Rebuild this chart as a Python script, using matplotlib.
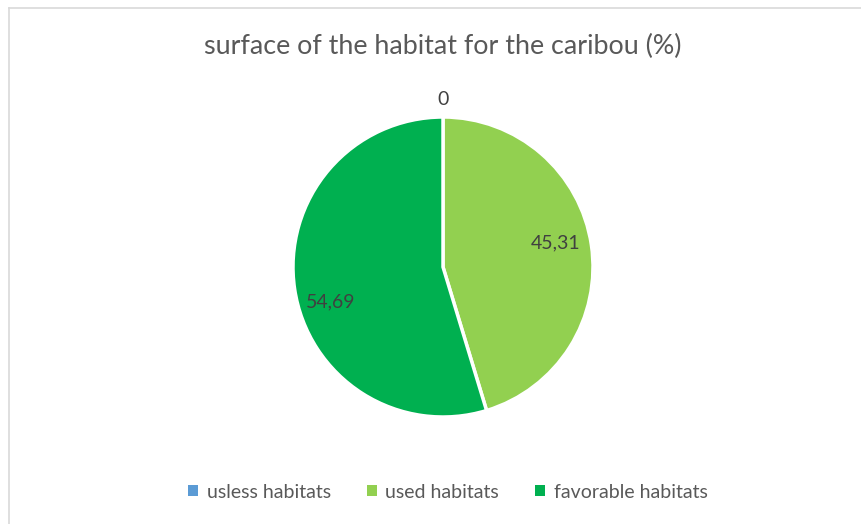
import matplotlib
matplotlib.use("Agg")
import matplotlib.pyplot as plt
import numpy as np
from matplotlib.patches import Rectangle
from matplotlib.lines import Line2D

plt.rcParams['font.family'] = ['Lato', 'DejaVu Sans']

title = "surface of the habitat for the caribou (%)"
categories = ["usless habitats", "used habitats", "favorable habitats"]
values = [0.0, 45.31, 54.69]
value_labels = ["0", "45,31", "54,69"]
colors = ["#5B9BD5", "#92D050", "#00B050"]

W, H = 862, 524
fig = plt.figure(figsize=(W / 100, H / 100), dpi=100)
fig.patch.set_facecolor("white")

# chart border
fig.add_artist(Line2D([9.5 / W, 9.5 / W], [0, 1 - 7.5 / H], color="#D9D9D9", lw=1.2))
fig.add_artist(Line2D([9.5 / W, 1], [1 - 7.5 / H, 1 - 7.5 / H], color="#D9D9D9", lw=1.2))

# pie axes: center (443, 267), radius ~150 px
cx, cy, r = 443, 267, 150
ax = fig.add_axes([(cx - r) / W, 1 - (cy + r) / H, 2 * r / W, 2 * r / H])
wedges, _ = ax.pie(values, colors=colors, startangle=90, counterclock=False,
                   wedgeprops=dict(edgecolor="white", linewidth=2.5),
                   radius=1.0)
ax.set_xlim(-1, 1)
ax.set_ylim(-1, 1)
ax.set_aspect("equal")
ax.axis("off")

for w, lab, v in zip(wedges, value_labels, values):
    ang = np.deg2rad((w.theta1 + w.theta2) / 2)
    if v == 0:
        d, dy = 1.12, 0.0
    else:
        d = 0.76
        dy = 0.05 if np.cos(ang) > 0 else -0.12
    ax.text(d * np.cos(ang), d * np.sin(ang) + dy, lab, ha="center", va="center",
            fontsize=14, color="#404040", clip_on=False)

fig.text(443 / W, 1 - 46 / H, title, ha="center", va="center",
         fontsize=19.4, color="#595959")

handles = [Rectangle((0, 0), 1, 1, facecolor=c, edgecolor="none") for c in colors]
leg = fig.legend(handles, categories, loc="center", bbox_to_anchor=(448 / W, 1 - 492 / H),
                 ncol=3, frameon=False, fontsize=14, handlelength=0.5, handleheight=0.5,
                 handletextpad=0.45, columnspacing=1.85)
for t in leg.get_texts():
    t.set_color("#595959")

fig.savefig("out.png", dpi=100, facecolor="white")
